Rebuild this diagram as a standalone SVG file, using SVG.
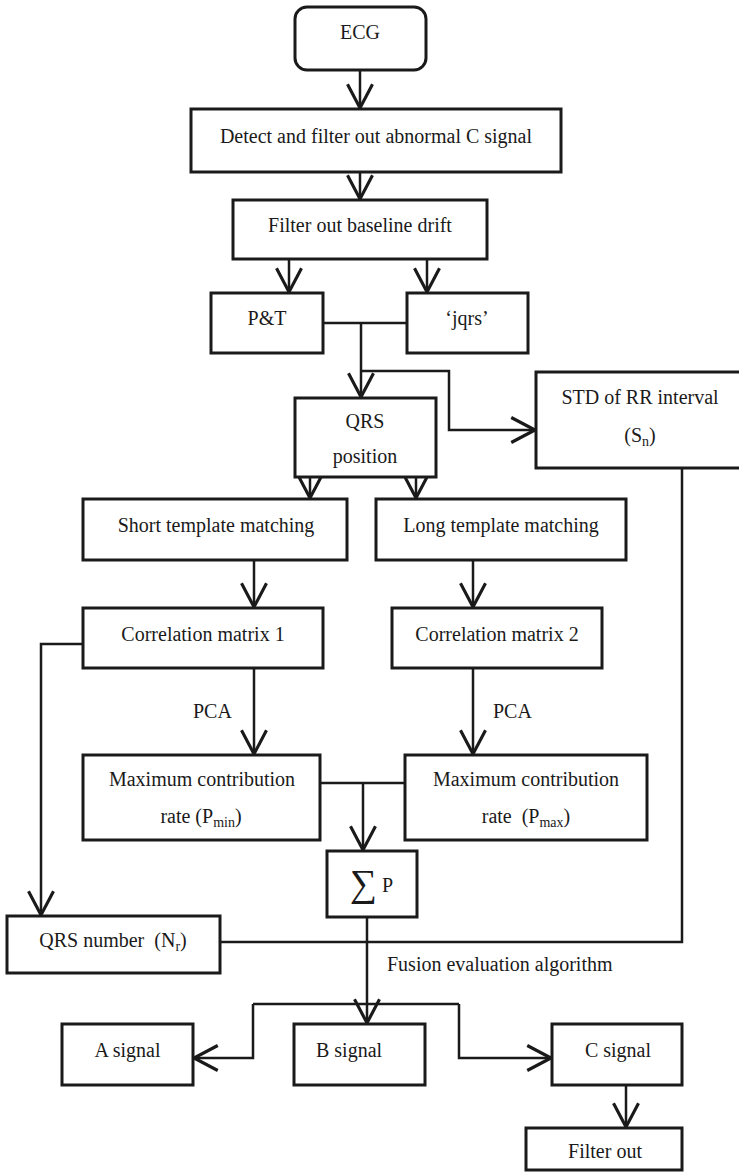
<svg xmlns="http://www.w3.org/2000/svg" width="739" height="1173" viewBox="0 0 739 1173">
<style>
.box{fill:#fff;stroke:#1a1a1a;stroke-width:3}
.ln{fill:none;stroke:#1a1a1a;stroke-width:2.5}
.ar{fill:none;stroke:#1a1a1a;stroke-width:2.5;marker-end:url(#arr)}
text{font-family:"Liberation Serif","Times New Roman",serif;font-size:20px;fill:#1a1a1a}
.c{text-anchor:middle}
.sub{font-size:14px}
</style>
<defs>
<marker id="arr" markerUnits="userSpaceOnUse" markerWidth="30" markerHeight="30" viewBox="-22 -12 24 24" refX="0" refY="0" orient="auto">
<path d="M-19,-10 L0,0 L-19,10" fill="none" stroke="#1a1a1a" stroke-width="2.5"/>
</marker>
</defs>
<rect width="739" height="1173" fill="#fff"/>
<g id="connectors">
<line class="ar" x1="360" y1="70" x2="360" y2="108"/>
<line class="ar" x1="360" y1="172" x2="360" y2="199"/>
<line class="ar" x1="289" y1="259" x2="289" y2="292"/>
<line class="ar" x1="427" y1="259" x2="427" y2="292"/>
<line class="ln" x1="323" y1="323" x2="407" y2="323"/>
<line class="ar" x1="361" y1="323" x2="361" y2="397"/>
<polyline class="ar" points="361,371 449,371 449,430 535,430"/>
<line class="ar" x1="310" y1="477" x2="310" y2="498"/>
<line class="ar" x1="416" y1="477" x2="416" y2="498"/>
<line class="ar" x1="254" y1="560" x2="254" y2="607"/>
<line class="ar" x1="473" y1="560" x2="473" y2="607"/>
<line class="ar" x1="254" y1="668" x2="254" y2="754"/>
<line class="ar" x1="473" y1="668" x2="473" y2="754"/>
<polyline class="ar" points="83,644 41,644 41,915"/>
<line class="ln" x1="320" y1="783" x2="405" y2="783"/>
<line class="ar" x1="363" y1="783" x2="363" y2="850"/>
<polyline class="ln" points="682,468 682,942 220,942"/>
<line class="ar" x1="367" y1="917" x2="367" y2="1023"/>
<line class="ln" x1="253" y1="1004" x2="459" y2="1004"/>
<polyline class="ar" points="253,1004 253,1058 194,1058"/>
<polyline class="ar" points="459,1004 459,1058 551,1058"/>
<line class="ar" x1="626" y1="1085" x2="626" y2="1127"/>
</g>
<g id="ecg"><rect class="box" x="295" y="7" width="131" height="63" rx="12"/><text class="c" x="360" y="39">ECG</text></g>
<g id="detect"><rect class="box" x="191" y="109" width="370" height="63"/><text class="c" x="376" y="143">Detect and filter out abnormal C signal</text></g>
<g id="baseline"><rect class="box" x="233" y="200" width="254" height="59"/><text class="c" x="360" y="232">Filter out baseline drift</text></g>
<g id="pt"><rect class="box" x="211" y="293" width="112" height="60"/><text class="c" x="267" y="325">P&amp;T</text></g>
<g id="jqrs"><rect class="box" x="407" y="293" width="121" height="60"/><text class="c" x="467" y="325">‘jqrs’</text></g>
<g id="qrspos"><rect class="box" x="295" y="398" width="141" height="79"/><text class="c" x="365" y="428">QRS</text><text class="c" x="365" y="463">position</text></g>
<g id="std"><rect class="box" x="536" y="372" width="210" height="96"/><text class="c" x="640" y="404">STD of RR interval</text><text class="c" x="640" y="442">(S<tspan class="sub" dy="4">n</tspan><tspan dy="-4">)</tspan></text></g>
<g id="short"><rect class="box" x="83" y="499" width="264" height="61"/><text class="c" x="216" y="532">Short template matching</text></g>
<g id="long"><rect class="box" x="376" y="499" width="250" height="61"/><text class="c" x="501" y="532">Long template matching</text></g>
<g id="corr1"><rect class="box" x="83" y="608" width="240" height="60"/><text class="c" x="203" y="641">Correlation matrix 1</text></g>
<g id="corr2"><rect class="box" x="392" y="608" width="210" height="60"/><text class="c" x="497" y="641">Correlation matrix 2</text></g>
<text x="193" y="718">PCA</text>
<text x="493" y="718">PCA</text>
<g id="max1"><rect class="box" x="83" y="755" width="237" height="85"/><text class="c" x="202" y="786">Maximum contribution</text><text class="c" x="201" y="823">rate (P<tspan class="sub" dy="4">min</tspan><tspan dy="-4">)</tspan></text></g>
<g id="max2"><rect class="box" x="405" y="755" width="242" height="85"/><text class="c" x="526" y="786">Maximum contribution</text><text class="c" x="526" y="823" xml:space="preserve">rate  (P<tspan class="sub" dy="4">max</tspan><tspan dy="-4">)</tspan></text></g>
<g id="sum"><rect class="box" x="327" y="851" width="90" height="66"/><text x="350" y="896" style="font-size:38px">∑</text><text x="382" y="892">P</text></g>
<g id="qrsnum"><rect class="box" x="7" y="916" width="213" height="57"/><text class="c" x="113" y="947" xml:space="preserve">QRS number  (N<tspan class="sub" dy="4">r</tspan><tspan dy="-4">)</tspan></text></g>
<text x="387" y="971">Fusion evaluation algorithm</text>
<g id="a"><rect class="box" x="62" y="1024" width="131" height="61"/><text class="c" x="127.5" y="1057">A signal</text></g>
<g id="b"><rect class="box" x="294" y="1024" width="131" height="61"/><text x="316" y="1057">B signal</text></g>
<g id="c"><rect class="box" x="552" y="1024" width="130" height="61"/><text class="c" x="618" y="1057">C signal</text></g>
<g id="filterout"><rect class="box" x="526" y="1128" width="156" height="42"/><text class="c" x="605" y="1158">Filter out</text></g>
</svg>
